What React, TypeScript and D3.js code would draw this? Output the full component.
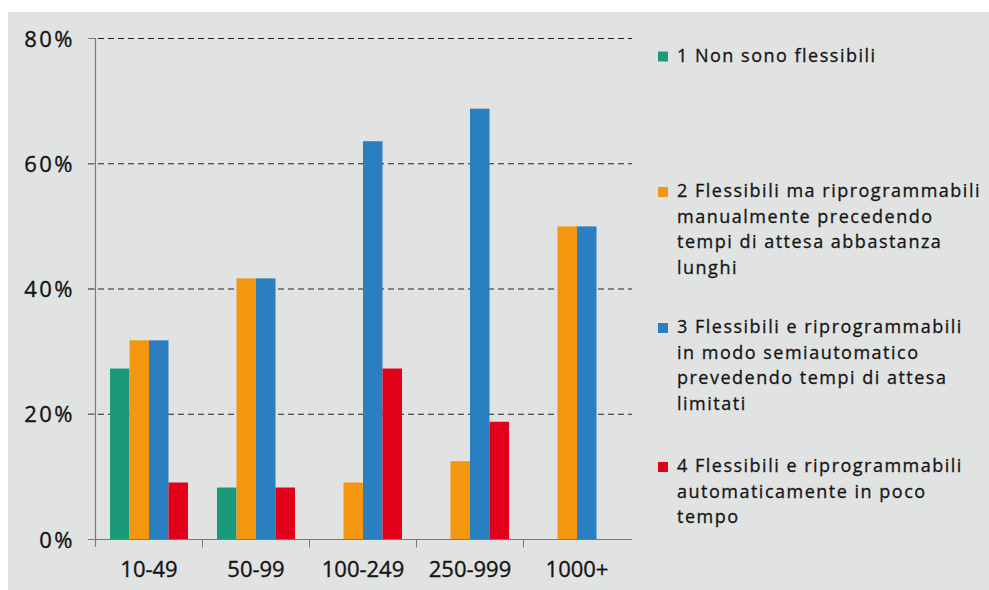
import React from "react";
import * as d3 from "d3";

const categories = ["10-49", "50-99", "100-249", "250-999", "1000+"];
const seriesNames = [
  "1 Non sono flessibili",
  "2 Flessibili ma riprogrammabili manualmente precedendo tempi di attesa abbastanza lunghi",
  "3 Flessibili e riprogrammabili in modo semiautomatico prevedendo tempi di attesa limitati",
  "4 Flessibili e riprogrammabili automaticamente in poco tempo",
];
const legendLines = [
  ["1 Non sono flessibili"],
  ["2 Flessibili ma riprogrammabili", "manualmente precedendo", "tempi di attesa abbastanza", "lunghi"],
  ["3 Flessibili e riprogrammabili", "in modo semiautomatico", "prevedendo tempi di attesa", "limitati"],
  ["4 Flessibili e riprogrammabili", "automaticamente in poco", "tempo"],
];
const s1 = [27.3, 8.3, 0, 0, 0];
const s2 = [31.8, 41.7, 9.1, 12.5, 50];
const s3 = [31.8, 41.7, 63.6, 68.8, 50];
const s4 = [9.1, 8.3, 27.3, 18.8, 0];
const yTicks = [0, 20, 40, 60, 80];
const colors = ["#1b9a7a", "#f2970f", "#2a7fc1", "#e2001a"];

const W = 989;
const H = 590;
const FONT = "'Open Sans', 'Noto Sans', sans-serif";

export default function App() {
  const series = [s1, s2, s3, s4];
  const x0 = d3.scaleBand<string>().domain(categories).range([95.5, 630.5]).padding(0);
  const x1 = d3.scaleBand<number>().domain([0, 1, 2, 3]).range([14.5, 92.5]).padding(0);
  const y = d3.scaleLinear().domain([0, 80]).range([539.5, 38.5]);
  const legendBaselines = [61.5, 197, 333, 472];
  const lineH = 25.5;
  const textColor = "#141414";

  return (
    <svg
      width={W}
      height={H}
      style={{ position: "absolute", left: 0, top: 0 }}
      fontFamily={FONT}
    >
      <rect x={0} y={0} width={W} height={H} fill="#ffffff" />
      <rect x={8} y={12} width={W - 8} height={H - 12} fill="#e1e3e3" />
      {/* gridlines */}
      {yTicks.filter((t) => t > 0).map((t) => (
        <line
          key={"g" + t}
          x1={88}
          x2={632}
          y1={y(t)}
          y2={y(t)}
          stroke="#222"
          strokeWidth={1}
          strokeDasharray="6,4"
        />
      ))}
      {/* bars */}
      {categories.map((c, i) => (
        <g key={c} transform={`translate(${x0(c)},0)`}>
          {series.map((s, k) =>
            s[i] > 0 ? (
              <rect
                key={k}
                x={x1(k)}
                y={y(s[i])}
                width={x1.bandwidth()}
                height={y(0) - y(s[i])}
                fill={colors[k]}
              />
            ) : null
          )}
        </g>
      ))}
      {/* axes */}
      <line x1={95.5} x2={95.5} y1={38} y2={547} stroke="#7a7a7a" strokeWidth={1.2} />
      <line x1={88} x2={632} y1={y(0)} y2={y(0)} stroke="#7a7a7a" strokeWidth={1.2} />
      {yTicks.map((t) => (
        <line key={"yt" + t} x1={88} x2={95.5} y1={y(t)} y2={y(t)} stroke="#7a7a7a" strokeWidth={1} />
      ))}
      {categories.slice(1).map((c) => (
        <line
          key={"xt" + c}
          x1={x0(c)}
          x2={x0(c)}
          y1={y(0)}
          y2={y(0) + 8}
          stroke="#7a7a7a"
          strokeWidth={1}
        />
      ))}
      {yTicks.map((t) => (
        <text
          key={"yl" + t}
          x={75}
          y={y(t) + 8}
          textAnchor="end"
          fontSize={22}
          letterSpacing={2.5}
          fill={textColor}
          stroke={textColor}
          strokeWidth={0.35}
        >
          {t + "%"}
        </text>
      ))}
      {categories.map((c) => (
        <text
          key={"xl" + c}
          x={(x0(c) as number) + x0.bandwidth() / 2}
          y={577}
          textAnchor="middle"
          fontSize={22}
          fill={textColor}
          stroke={textColor}
          strokeWidth={0.35}
        >
          {c}
        </text>
      ))}
      {/* legend */}
      {legendLines.map((lines, k) => (
        <g key={"lg" + k}>
          <rect x={658} y={legendBaselines[k] - 10} width={10} height={10} fill={colors[k]}>
            <title>{seriesNames[k]}</title>
          </rect>
          {lines.map((ln, j) => (
            <text
              key={j}
              x={677}
              y={legendBaselines[k] + j * lineH}
              fontSize={18}
              letterSpacing={1.5}
              fill={textColor}
              stroke={textColor}
              strokeWidth={0.3}
            >
              {ln}
            </text>
          ))}
        </g>
      ))}
    </svg>
  );
}
